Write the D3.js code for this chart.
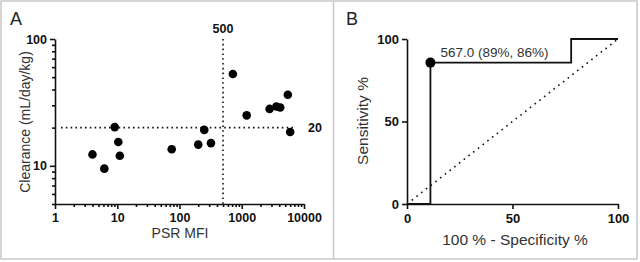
<!DOCTYPE html>
<html>
<head>
<meta charset="utf-8">
<script src="https://cdn.jsdelivr.net/npm/d3@7"></script>
<style>
  body { margin: 0; background: #fff; }
  svg { display: block; font-family: "Liberation Sans", Arial, sans-serif; }
  .tick text { font-size: 12.5px; font-weight: bold; fill: #111; }
  .axis path, .axis line { stroke: #111; stroke-width: 1.6; }
  .minor path { display: none; }
  .title { font-size: 14px; fill: #333; }
  .titleB { font-size: 15.5px; fill: #333; }
  .axisB .tick text { font-size: 13px; }
  .panel { font-size: 18px; fill: #222; }
</style>
</head>
<body>
<svg id="chart" width="640" height="262"></svg>
<script>
// panel A: PSR MFI vs clearance
var psrMfi    = [4.0, 6.2, 9.1, 10.4, 11.0, 75, 200, 250, 320, 720, 1200, 2800, 3600, 4150, 5500, 6000];
var clearance = [12.3, 9.5, 20.2, 15.4, 12.0, 13.5, 14.7, 19.2, 15.1, 53, 25, 28.1, 29.4, 28.8, 36.3, 18.5];
var cutX = 500, cutY = 20;
var xTicksA = [1, 10, 100, 1000, 10000];
var yTicksA = [10, 100];

// panel B: ROC curve
var rocFpr  = [0, 11.1, 11.1, 77.8, 77.8, 100];
var rocSens = [0, 0, 85.7, 85.7, 100, 100];
var bestPoint = { fpr: 11.1, sens: 85.7, label: "567.0 (89%, 86%)" };
var ticksB = [0, 50, 100];

var svg = d3.select('#chart');

// frame
svg.append('rect').attr('x', 1).attr('y', 1).attr('width', 636).attr('height', 258)
    .attr('fill', 'none').attr('stroke', '#c8c8c8').attr('stroke-width', 1.5);
svg.append('line').attr('x1', 333.5).attr('x2', 333.5).attr('y1', 1).attr('y2', 259)
    .attr('stroke', '#c8c8c8').attr('stroke-width', 1.5);

function minorLog(lo, hi) {
    var out = [];
    for (var d = lo; d < hi; d *= 10) {
        for (var k = 2; k < 10; k++) out.push(d * k);
    }
    return out;
}

// ---------- panel A ----------
var xA = d3.scaleLog().domain([1, 10000]).range([55, 304]);
var yA = d3.scaleLog().domain([5, 100]).range([204, 39]);
var gA = svg.append('g');

gA.append('text').attr('class', 'panel').attr('x', 10).attr('y', 25).text('A');

gA.append('g').attr('class', 'axis minor')
    .attr('transform', 'translate(0,204)')
    .call(d3.axisBottom(xA).tickValues(minorLog(1, 10000)).tickSize(3).tickFormat(''));
gA.append('g').attr('class', 'axis')
    .attr('transform', 'translate(0,204)')
    .call(d3.axisBottom(xA).tickValues(xTicksA).tickSize(5).tickSizeOuter(0).tickPadding(4).tickFormat(d3.format('d')));

gA.append('g').attr('class', 'axis minor')
    .attr('transform', 'translate(55,0)')
    .call(d3.axisLeft(yA).tickValues([5, 6, 7, 8, 9].concat(minorLog(10, 100))).tickSize(3).tickFormat(''));
gA.append('g').attr('class', 'axis')
    .attr('transform', 'translate(55,0)')
    .call(d3.axisLeft(yA).tickValues(yTicksA).tickSize(5).tickSizeOuter(0).tickPadding(3).tickFormat(d3.format('d')));

// cut-off lines
gA.append('line')
    .attr('x1', 61).attr('x2', xA(7000))
    .attr('y1', yA(cutY)).attr('y2', yA(cutY))
    .attr('stroke', '#111').attr('stroke-width', 1.6).attr('stroke-dasharray', '1.6,3.2');
gA.append('line')
    .attr('x1', xA(cutX)).attr('x2', xA(cutX))
    .attr('y1', yA(100)).attr('y2', yA(5))
    .attr('stroke', '#111').attr('stroke-width', 1.6).attr('stroke-dasharray', '1.6,3.2');
gA.append('text').attr('x', xA(cutX)).attr('y', 33)
    .attr('text-anchor', 'middle').attr('font-size', 12.5).attr('font-weight', 'bold').attr('fill', '#111')
    .text(cutX);
gA.append('text').attr('x', 308).attr('y', yA(cutY) + 4)
    .attr('font-size', 12.5).attr('font-weight', 'bold').attr('fill', '#111')
    .text(cutY);

gA.selectAll('circle.pt')
    .data(psrMfi.map(function(v, i) { return { x: v, y: clearance[i] }; }))
    .join('circle')
        .attr('class', 'pt')
        .attr('cx', d => xA(d.x))
        .attr('cy', d => yA(d.y))
        .attr('r', 4.3)
        .attr('fill', '#000');

gA.append('text').attr('class', 'title')
    .attr('x', 180).attr('y', 238).attr('text-anchor', 'middle').text('PSR MFI');
gA.append('text').attr('class', 'title')
    .attr('transform', 'translate(30,' + 122 + ') rotate(-90)')
    .attr('text-anchor', 'middle').text('Clearance (mL/day/kg)');

// ---------- panel B ----------
var xB = d3.scaleLinear().domain([0, 100]).range([407, 618]);
var yB = d3.scaleLinear().domain([0, 100]).range([204, 39]);
var gB = svg.append('g');

gB.append('text').attr('class', 'panel').attr('x', 346).attr('y', 25).text('B');

gB.append('line')
    .attr('x1', xB(0)).attr('y1', yB(0)).attr('x2', xB(100)).attr('y2', yB(100))
    .attr('stroke', '#111').attr('stroke-width', 1.6).attr('stroke-dasharray', '1.6,4.4');

gB.append('path')
    .datum(rocFpr.map(function(v, i) { return [v, rocSens[i]]; }))
    .attr('fill', 'none').attr('stroke', '#111').attr('stroke-width', 1.8)
    .attr('d', d3.line().x(d => xB(d[0])).y(d => yB(d[1])));

gB.append('g').attr('class', 'axis axisB')
    .attr('transform', 'translate(0,204)')
    .call(d3.axisBottom(xB).tickValues(ticksB).tickSize(5).tickSizeOuter(0).tickPadding(5));
gB.append('g').attr('class', 'axis axisB')
    .attr('transform', 'translate(407,0)')
    .call(d3.axisLeft(yB).tickValues(ticksB).tickSize(5).tickSizeOuter(0).tickPadding(3));

gB.append('circle')
    .attr('cx', xB(bestPoint.fpr)).attr('cy', yB(bestPoint.sens))
    .attr('r', 5).attr('fill', '#000');
gB.append('text')
    .attr('x', xB(bestPoint.fpr) + 10).attr('y', yB(bestPoint.sens) - 6)
    .attr('font-size', 13.5).attr('fill', '#333')
    .text(bestPoint.label);

gB.append('text').attr('class', 'titleB')
    .attr('x', 515).attr('y', 245).attr('text-anchor', 'middle').text('100 % - Specificity %');
gB.append('text').attr('class', 'titleB')
    .attr('transform', 'translate(368,' + 121 + ') rotate(-90)')
    .attr('text-anchor', 'middle').text('Sensitivity %');
</script>
</body>
</html>
